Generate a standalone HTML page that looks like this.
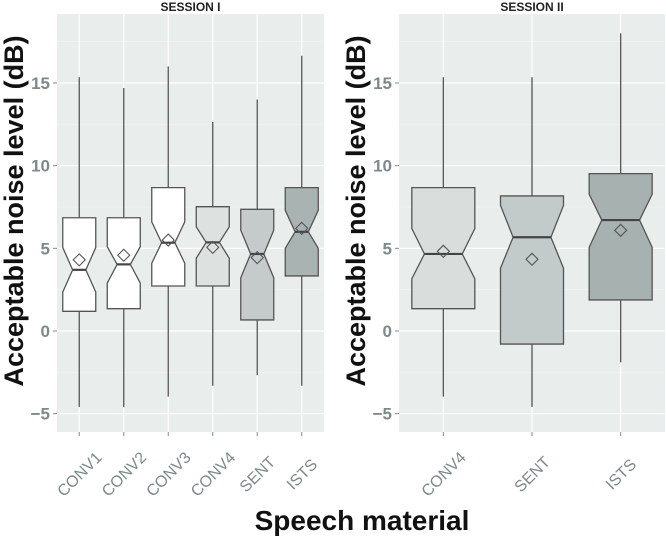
<!DOCTYPE html>
<html><head><meta charset="utf-8"><style>
body{margin:0;background:#fff;}
svg{display:block;font-family:"Liberation Sans",sans-serif;}
</style></head><body>
<svg id="c" width="666" height="536" viewBox="0 0 666 536"></svg>
<script>
const cats1=["CONV1","CONV2","CONV3","CONV4","SENT","ISTS"];
const lo1=[-4.6,-4.6,-3.97,-3.31,-2.66,-3.31];
const q1_1=[1.19,1.35,2.72,2.72,0.67,3.33];
const med1=[3.7,4.03,5.34,5.36,4.66,6.0];
const q3_1=[6.85,6.85,8.67,7.52,7.36,8.67];
const hi1=[15.35,14.7,16.0,12.64,14.0,16.65];
const mean1=[4.3,4.58,5.5,5.06,4.44,6.21];
const nlo1=[2.35,2.9,4.1,4.4,3.22,5.0];
const nhi1=[5.05,5.1,6.6,6.3,6.1,7.3];
const fill1=["#ffffff","#ffffff","#ffffff","#dde1e0","#c4cbca","#a9b3b2"];
const cats2=["CONV4","SENT","ISTS"];
const lo2=[-3.97,-4.6,-1.9];
const q1_2=[1.35,-0.79,1.88];
const med2=[4.66,5.67,6.71];
const q3_2=[8.67,8.17,9.52];
const hi2=[15.35,15.35,18.0];
const mean2=[4.82,4.34,6.09];
const nlo2=[3.16,3.8,5.06];
const nhi2=[6.2,7.6,8.27];
const fill2=["#d9dedd","#c2cbca","#a7b2b0"];
const yTicks=[-5,0,5,10,15];

const NS="http://www.w3.org/2000/svg";
const svg=document.getElementById('c');
function mk(t,a,p){const e=document.createElementNS(NS,t);for(const k in a)e.setAttribute(k,a[k]);(p||svg).appendChild(e);return e;}
const yTop=14,yBot=432;
function y(v){return 331-(v)*16.533;}

function panel(px0,px1,title,cats,lo,q1,med,q3,hi,mean,nlo,nhi,fill,bw,nw,name){
  const g=mk('g',{});
  
  
  const bg=mk('rect',{x:px0,y:yTop,width:px1-px0,height:yBot-yTop,fill:'#e9edeb'},g);
  
  
  for(let i=0;i<yTicks.length-1;i++){
    const v=(yTicks[i]+yTicks[i+1])/2;
    mk('line',{x1:px0,x2:px1,y1:y(v),y2:y(v),stroke:'#f3f5f4','stroke-width':0.6},g);
  }
  mk('line',{x1:px0,x2:px1,y1:y(17.5),y2:y(17.5),stroke:'#f3f5f4','stroke-width':0.6},g);
  const n=cats.length,step=(px1-px0)/n;
  const xc=i=>px0+step*(i+0.5);
  yTicks.forEach(v=>{
    const l=mk('line',{x1:px0,x2:px1,y1:y(v),y2:y(v),stroke:'#ffffff','stroke-width':1.2},g);
    
    
    mk('line',{x1:px0-4,x2:px0,y1:y(v),y2:y(v),stroke:'#7d8a8a','stroke-width':1},g);
    const t=mk('text',{x:px0-7,y:y(v)+6,'text-anchor':'end','font-size':17,'font-weight':'bold',fill:'#7d8a8a'},g);
    t.textContent=v<0?'\u2212'+Math.abs(v):String(v);
    
    
  });
  cats.forEach((c,i)=>{
    const x=xc(i);
    mk('line',{x1:x,x2:x,y1:yTop,y2:yBot,stroke:'#ffffff','stroke-width':1.2},g);
    mk('line',{x1:x,x2:x,y1:yBot,y2:yBot+4,stroke:'#7d8a8a','stroke-width':1},g);
    const t=mk('text',{x:0,y:0,'text-anchor':'middle','font-size':16,fill:'#7d8a8a',transform:`translate(${x+4},${yBot+46}) rotate(-45)`},g);
    t.textContent=c;
    
    
  });
  cats.forEach((c,i)=>{
    const x=xc(i),l=x-bw/2,r=x+bw/2,il=x-bw*nw/2,ir=x+bw*nw/2;
    const w=mk('line',{x1:x,x2:x,y1:y(hi[i]),y2:y(lo[i]),stroke:'#555','stroke-width':1.3},g);
    
    
    const pts=[[l,y(q3[i])],[r,y(q3[i])],[r,y(nhi[i])],[ir,y(med[i])],[r,y(nlo[i])],[r,y(q1[i])],[l,y(q1[i])],[l,y(nlo[i])],[il,y(med[i])],[l,y(nhi[i])]];
    const b=mk('polygon',{points:pts.map(p=>p.join(',')).join(' '),fill:fill[i],stroke:'#555','stroke-width':1.3},g);
    
    
    const m=mk('line',{x1:il,x2:ir,y1:y(med[i]),y2:y(med[i]),stroke:'#444','stroke-width':2.2},g);
    
    
    const my=y(mean[i]),d=6;
    const mm=mk('polygon',{points:`${x},${my-d} ${x+d},${my} ${x},${my+d} ${x-d},${my}`,fill:'none',stroke:'#555','stroke-width':1.1},g);
    
    
  });
  const tt=mk('text',{x:(px0+px1)/2,y:11,'text-anchor':'middle','font-size':12,'font-weight':'bold',fill:'#222'},g);
  tt.textContent=title;
  
  
  const yt=mk('text',{x:0,y:0,'text-anchor':'middle','font-size':27,'font-weight':'bold',fill:'#111',transform:`translate(${px0-34},211) rotate(-90)`},g);
  yt.textContent='Acceptable noise level (dB)';
  
  
}
panel(57,324,'SESSION I',cats1,lo1,q1_1,med1,q3_1,hi1,mean1,nlo1,nhi1,fill1,33,0.4,'panel-session-1');
panel(399,665,'SESSION II',cats2,lo2,q1_2,med2,q3_2,hi2,mean2,nlo2,nhi2,fill2,63,0.6,'panel-session-2');
const xt=mk('text',{x:362,y:530,'text-anchor':'middle','font-size':28,'font-weight':'bold',fill:'#111'});
xt.textContent='Speech material';


</script>
</body></html>
